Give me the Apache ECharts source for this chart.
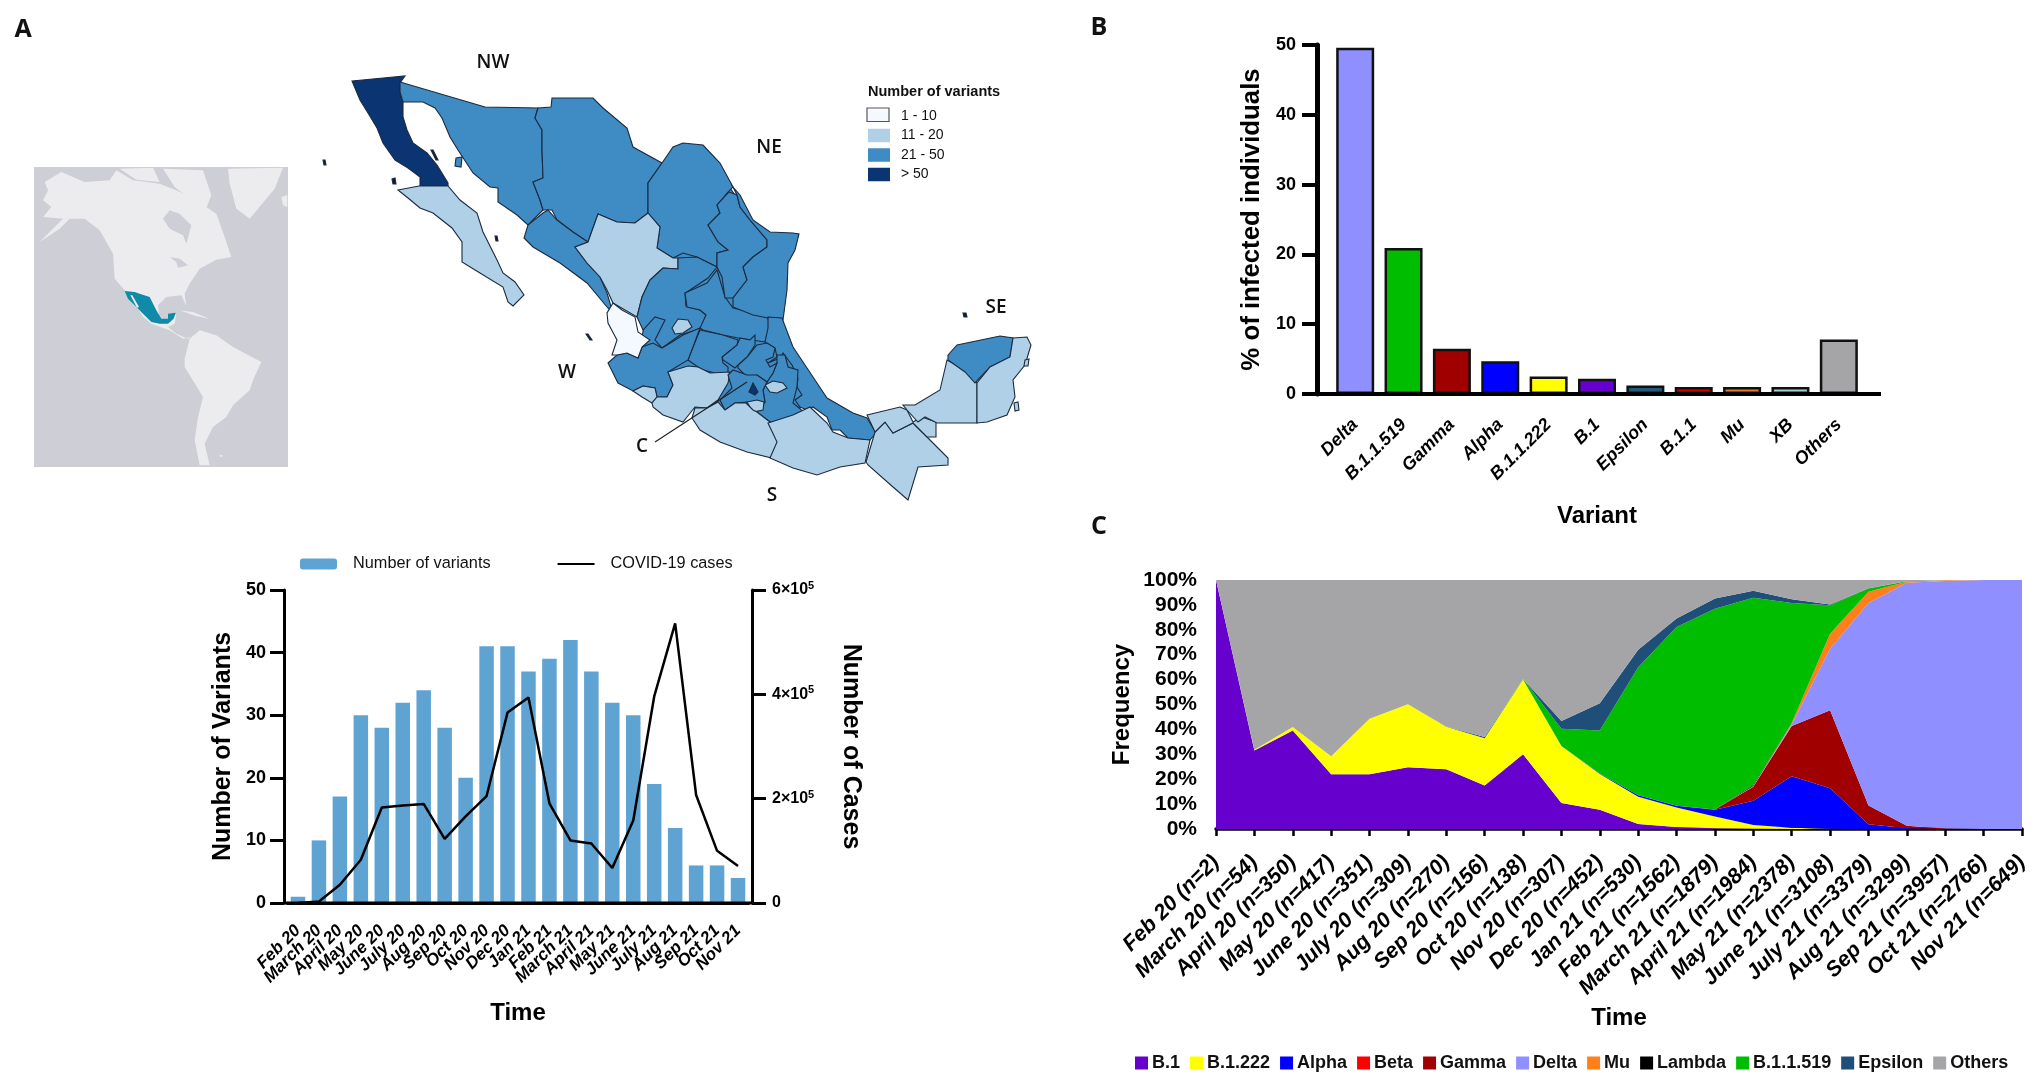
<!DOCTYPE html>
<html>
<head>
<meta charset="utf-8">
<title>SARS-CoV-2 variants in Mexico</title>
<script src="https://cdn.jsdelivr.net/npm/echarts@6/dist/echarts.min.js"></script>
<style>
  html, body { margin: 0; padding: 0; background: #fff; }
  #chart { width: 2033px; height: 1075px; }
</style>
</head>
<body>
<div id="chart"></div>
<script>
// panel A, bar + line
const MONTHS = ["Feb 20", "March 20", "April 20", "May 20", "June 20", "July 20", "Aug 20", "Sep 20", "Oct 20", "Nov 20", "Dec 20",
  "Jan 21", "Feb 21", "March 21", "April 21", "May 21", "June 21", "July 21", "Aug 21", "Sep 21", "Oct 21", "Nov 21"];
const VARIANT_COUNTS = [1, 10, 17, 30, 28, 32, 34, 28, 20, 41, 41, 37, 39, 42, 37, 32, 30, 19, 12, 6, 6, 4];
const COVID_CASES = [0, 3000, 35000, 83000, 183000, 187000, 190000, 123000, 166000, 205000, 365000,
  394000, 191000, 120000, 114000, 67000, 158000, 396000, 536000, 207000, 100000, 71000];
const CASE_TICK_LABELS = { 0: "{a|0}", 200000: "{a|2×10}{b|5}", 400000: "{a|4×10}{b|5}", 600000: "{a|6×10}{b|5}" };

// panel B
const VARIANTS = ["Delta", "B.1.1.519", "Gamma", "Alpha", "B.1.1.222", "B.1", "Epsilon", "B.1.1", "Mu", "XB", "Others"];
const VARIANT_SHARE = [49.6, 20.9, 6.5, 4.7, 2.5, 2.2, 1.2, 1, 1, 1, 7.8];
const VARIANT_COLORS = ["#8f8fff", "#00bd00", "#a00000", "#0000ff", "#ffff00", "#6600cc", "#1f5a7a", "#d40000", "#e87a1f", "#a8cfd0", "#a5a5a8"];

// panel C, stacked frequency per month
const SAMPLE_MONTHS = ["Feb 20 (n=2)", "March 20 (n=54)", "April 20 (n=350)", "May 20 (n=417)", "June 20 (n=351)", "July 20 (n=309)",
  "Aug 20 (n=270)", "Sep 20 (n=156)", "Oct 20 (n=138)", "Nov 20 (n=307)", "Dec 20 (n=452)", "Jan 21 (n=530)", "Feb 21 (n=1562)",
  "March 21 (n=1879)", "April 21 (n=1984)", "May 21 (n=2378)", "June 21 (n=3108)", "July 21 (n=3379)", "Aug 21 (n=3299)",
  "Sep 21 (n=3957)", "Oct 21 (n=2766)", "Nov 21 (n=649)"];
const FREQ_B1 = [100, 31.5, 39.6, 22, 22, 24.8, 24, 17.5, 30, 10.4, 7.7, 2, 0.8, 0.3, 0.1, 0, 0, 0, 0, 0, 0, 0];
const FREQ_B1222 = [0, 0.3, 1.4, 7.2, 22.3, 25.3, 17.1, 18.9, 30, 22.9, 14.4, 11, 7.8, 4.7, 1.5, 0.5, 0.1, 0, 0, 0, 0, 0];
const FREQ_ALPHA = [0, 0, 0, 0, 0, 0, 0, 0, 0, 0, 0.2, 0.6, 0.7, 2.7, 9.7, 20.7, 16.3, 1.9, 0.3, 0, 0, 0];
const FREQ_BETA = [0, 0, 0, 0, 0, 0, 0, 0, 0, 0, 0, 0, 0, 0, 0, 0, 0, 0, 0, 0, 0, 0];
const FREQ_GAMMA = [0, 0, 0, 0, 0, 0, 0, 0, 0, 0, 0, 0, 0, 0.1, 5.7, 20.2, 31.3, 7.5, 1, 0.2, 0, 0];
const FREQ_DELTA = [0, 0, 0, 0, 0, 0, 0, 0, 0, 0, 0, 0, 0, 0, 0.2, 0.6, 24.7, 81.4, 97.6, 99.4, 100, 100];
const FREQ_MU = [0, 0, 0, 0, 0, 0, 0, 0, 0, 0, 0, 0, 0, 0, 0.1, 0.5, 6, 4.5, 0.4, 0.3, 0, 0];
const FREQ_LAMBDA = [0, 0, 0, 0, 0, 0, 0, 0, 0, 0, 0, 0, 0, 0, 0.4, 0.1, 0, 0, 0, 0, 0, 0];
const FREQ_B11519 = [0, 0, 0, 0, 0, 0, 0, 0, 0.2, 7, 17.3, 51.4, 71.8, 80.7, 75.2, 48.2, 11.5, 1.3, 0.2, 0, 0, 0];
const FREQ_EPSILON = [0, 0, 0, 0, 0, 0, 0.1, 0.5, 0, 3.1, 10.9, 7, 3.4, 4.1, 2.8, 1.5, 0.3, 0.1, 0, 0, 0, 0];
const FREQ_OTHERS = [0, 68.2, 59, 70.8, 55.7, 49.9, 58.8, 63.1, 39.8, 56.6, 49.5, 28, 15.5, 7.4, 4.3, 7.7, 9.8, 3.3, 0.5, 0.1, 0, 0];

const STACK_NAMES = ["B.1", "B.1.222", "Alpha", "Beta", "Gamma", "Delta", "Mu", "Lambda", "B.1.1.519", "Epsilon", "Others"];
const STACK_VALUES = [FREQ_B1, FREQ_B1222, FREQ_ALPHA, FREQ_BETA, FREQ_GAMMA, FREQ_DELTA, FREQ_MU, FREQ_LAMBDA, FREQ_B11519, FREQ_EPSILON, FREQ_OTHERS];
const STACK_COLORS = ["#6600cc", "#ffff00", "#0000ff", "#ff0000", "#a00000", "#8f8fff", "#ff7f1a", "#000000", "#00bd00", "#1f4e79", "#a5a5a8"];

// map outlines in map units
const MEXICO_STATES = {
  // drawn first, closes the small slivers between the traced state borders
  "Interior": [[665,170],[680,150],[703,150],[735,195],[755,225],[785,240],[780,300],[785,345],[810,385],[800,408],[770,420],[700,410],[650,395],[625,375],[640,345],[650,300],[660,255],[655,215]],
  "Baja California": [[352,81],[405,76],[400,83],[400,93],[403,102],[403,117],[407,130],[413,143],[427,153],[437,165],[448,183],[448,186],[420,186],[420,177],[408,168],[395,160],[383,143],[377,128],[368,113],[360,100]],
  "Baja California Sur": [[398,190],[419,186],[448,186],[460,200],[477,213],[483,232],[497,260],[503,273],[515,282],[524,295],[513,306],[508,302],[503,287],[480,273],[462,262],[462,242],[452,228],[433,213],[420,208],[408,198]],
  "Sonora": [[400,82],[485,107],[538,108],[535,118],[542,130],[542,150],[543,178],[533,182],[540,200],[543,210],[528,225],[517,215],[498,202],[498,188],[490,187],[473,173],[458,150],[450,137],[442,118],[435,108],[423,102],[403,102],[400,92]],
  "Chihuahua": [[538,108],[551,107],[552,98],[593,98],[603,108],[627,128],[633,147],[662,163],[648,183],[648,213],[635,223],[617,222],[598,214],[588,242],[573,232],[557,220],[552,210],[543,210],[540,200],[533,182],[543,178],[542,150],[542,130],[535,118]],
  "Coahuila": [[662,163],[673,147],[683,143],[703,145],[720,163],[733,187],[728,192],[717,205],[720,213],[708,225],[718,242],[728,250],[717,253],[717,267],[697,257],[683,253],[673,258],[657,248],[660,227],[648,213],[648,183]],
  "Sinaloa": [[548,210],[557,220],[573,232],[588,242],[575,247],[587,263],[600,277],[607,293],[613,313],[607,307],[587,283],[560,263],[533,247],[524,238],[528,225],[543,213]],
  "Durango": [[598,214],[617,222],[635,223],[648,213],[660,227],[657,248],[673,258],[678,258],[678,269],[663,268],[650,280],[642,297],[637,317],[613,303],[607,290],[600,277],[587,263],[575,247],[588,242]],
  "Zacatecas": [[650,280],[663,268],[678,269],[678,258],[697,257],[717,267],[708,278],[690,290],[685,293],[686,306],[700,310],[706,315],[702,327],[700,329],[680,335],[662,348],[655,340],[665,320],[655,317],[643,330],[637,317],[642,297]],
  "San Luis Potosi": [[717,270],[725,297],[733,308],[750,312],[768,318],[770,327],[765,342],[738,338],[723,335],[703,330],[700,328],[706,315],[700,310],[687,307],[685,293],[707,283]],
  "Aguascalientes": [[672,328],[678,319],[688,320],[692,327],[683,333],[675,334]],
  "Nuevo Leon": [[729,192],[737,195],[740,207],[750,220],[767,240],[767,247],[753,257],[743,267],[747,280],[733,298],[725,298],[722,277],[717,267],[717,253],[728,250],[718,242],[708,225],[720,213],[717,205]],
  "Tamaulipas": [[733,187],[740,195],[753,220],[770,232],[793,233],[799,234],[795,250],[788,263],[787,290],[783,320],[768,318],[753,315],[733,307],[733,298],[747,280],[743,267],[753,257],[767,247],[767,240],[750,220],[740,207],[737,195]],
  "Veracruz": [[768,317],[782,318],[793,347],[817,383],[827,398],[853,413],[867,418],[876,433],[870,440],[848,438],[840,430],[832,430],[827,417],[813,407],[807,410],[800,407],[795,400],[802,395],[797,387],[798,378],[792,365],[783,353],[780,358],[768,363],[777,357],[775,348],[765,342],[768,328]],
  "Puebla": [[777,355],[785,355],[788,367],[798,370],[797,387],[793,403],[804,412],[785,420],[770,422],[757,412],[765,402],[763,390],[767,382],[773,373],[777,363]],
  "Tlaxcala": [[765,385],[773,381],[783,383],[787,388],[777,393],[770,392]],
  "Hidalgo": [[738,365],[747,357],[757,345],[767,343],[775,348],[773,357],[766,360],[770,367],[777,363],[773,373],[767,382],[757,375],[747,377],[738,368]],
  "Queretaro": [[722,357],[737,345],[740,338],[750,340],[755,335],[755,345],[747,357],[738,365],[735,368],[723,360]],
  "Guanajuato": [[700,330],[723,335],[738,340],[737,345],[722,357],[723,363],[728,367],[728,375],[715,373],[703,370],[698,367],[688,360],[693,347]],
  "Jalisco": [[608,363],[617,355],[627,353],[638,358],[642,347],[653,343],[662,348],[672,342],[683,335],[700,328],[693,347],[688,360],[668,372],[673,385],[667,397],[657,397],[655,388],[643,386],[633,391],[618,383]],
  "Colima": [[633,391],[643,386],[655,388],[657,397],[652,403],[642,397]],
  "Michoacan": [[668,372],[688,366],[698,367],[710,373],[730,372],[728,383],[718,400],[707,408],[695,407],[687,417],[683,422],[663,415],[653,407],[652,403],[657,397],[667,397],[673,385]],
  "Mexico": [[728,375],[733,370],[747,375],[757,375],[767,382],[763,390],[765,402],[757,410],[747,402],[735,403],[725,410],[720,400],[732,388]],
  "Ciudad de Mexico": [[749,392],[753,383],[758,392],[755,395]],
  "Morelos": [[747,402],[757,400],[764,402],[763,410],[753,412]],
  "Nayarit": [[613,303],[622,310],[635,317],[638,332],[650,340],[642,347],[638,358],[627,353],[617,355],[612,355],[617,340],[608,323],[607,313]],
  "Guerrero": [[692,418],[695,408],[707,408],[718,402],[725,410],[735,403],[746,403],[753,410],[757,412],[770,422],[778,442],[772,458],[747,452],[720,442],[700,430]],
  "Oaxaca": [[768,423],[793,415],[810,407],[827,423],[833,432],[848,438],[870,440],[865,463],[840,467],[817,475],[793,468],[770,458],[777,442]],
  "Chiapas": [[875,432],[885,422],[893,433],[913,423],[927,437],[948,458],[948,465],[918,467],[908,500],[893,487],[868,465],[866,462]],
  "Tabasco": [[867,415],[900,407],[907,410],[913,422],[922,417],[936,422],[936,437],[927,437],[917,427],[913,423],[893,433],[885,422],[875,432]],
  "Campeche": [[903,405],[915,405],[940,390],[947,360],[965,370],[977,383],[977,423],[937,423],[925,417],[918,422],[907,410]],
  "Yucatan": [[948,355],[957,345],[1000,336],[1013,338],[1010,357],[990,367],[975,383],[965,372],[948,360]],
  "Quintana Roo": [[1013,338],[1027,337],[1031,345],[1025,365],[1013,380],[1015,397],[1007,415],[987,422],[977,423],[977,383],[990,367],[1010,357]]
};
const STATE_VARIANT_CLASS = {
  "Interior": 35,
  "Baja California": 60, "Baja California Sur": 15, "Sonora": 35, "Chihuahua": 35, "Coahuila": 35, "Sinaloa": 35, "Durango": 15,
  "Zacatecas": 35, "Aguascalientes": 15, "San Luis Potosi": 35, "Nuevo Leon": 35, "Tamaulipas": 35, "Veracruz": 35, "Puebla": 35,
  "Tlaxcala": 15, "Hidalgo": 35, "Queretaro": 35, "Guanajuato": 35, "Jalisco": 35, "Colima": 15, "Michoacan": 15, "Mexico": 35,
  "Ciudad de Mexico": 60, "Morelos": 15, "Nayarit": 5, "Guerrero": 15, "Oaxaca": 15, "Chiapas": 15, "Tabasco": 15, "Campeche": 15,
  "Yucatan": 35, "Quintana Roo": 15, "Cozumel": 15, "Mujeres": 15, "Tiburon": 35
};
const MEXICO_ISLANDS = {
  "Guadalupe": [[323,160],[325,160],[326,165],[324,165]],
  "Cedros": [[392,179],[395,178],[396,184],[393,184]],
  "Angel de la Guarda": [[431,150],[433,150],[438,160],[436,160]],
  "Tiburon": [[456,158],[462,157],[461,167],[455,166]],
  "Marias": [[586,334],[588,334],[592,340],[590,340]],
  "Cerralvo": [[495,236],[497,236],[498,241],[496,241]],
  "Arrecife": [[963,313],[966,313],[967,317],[964,317]],
  "Cozumel": [[1014,403],[1018,402],[1019,410],[1015,411]],
  "Mujeres": [[1025,360],[1029,359],[1028,366],[1024,366]]
};
const LEGEND_PIECES = [
  { label: "1 - 10", min: 1, max: 10, color: "#f4f9ff" },
  { label: "11 - 20", min: 11, max: 20, color: "#b0d0e8" },
  { label: "21 - 50", min: 21, max: 50, color: "#3f8bc4" },
  { label: "> 50", min: 51, color: "#0a3472" }
];

// locator map of the Americas, in its own map units
const INSET_SHAPES = {
  "ocean": [[43,50],[805,50],[805,950],[43,950]],
  "north america": [[75,95],[125,65],[195,95],[270,90],[290,60],[340,90],[420,100],[470,120],[530,150],[590,190],[615,260],[635,320],[590,328],[540,355],[510,400],[495,430],[500,468],[485,435],[440,440],[415,465],[420,510],[450,515],[470,490],[465,520],[445,530],[470,550],[505,565],[515,560],[490,565],[450,540],[395,520],[370,500],[340,450],[315,420],[285,385],[280,310],[240,240],[195,205],[150,205],[120,235],[60,275],[110,225],[130,205],[70,200],[95,170],[70,150],[85,120]],
  "hudson bay": [[430,205],[450,180],[480,190],[515,225],[500,280],[490,255],[450,235]],
  "great lakes": [[450,320],[480,325],[505,345],[475,352],[470,335]],
  "arctic west": [[300,55],[400,52],[420,95],[350,88]],
  "arctic east": [[430,55],[550,60],[575,135],[555,185],[510,145],[465,110]],
  "greenland": [[625,55],[790,52],[765,115],[690,205],[650,175],[630,100]],
  "iceland": [[785,140],[803,135],[803,170],[790,165]],
  "cuba": [[480,480],[520,485],[570,505],[530,498]],
  "south america": [[510,565],[540,540],[590,555],[640,590],[725,635],[700,690],[690,720],[640,765],[620,800],[580,830],[555,880],[570,945],[540,945],[525,870],[535,800],[550,740],[495,650],[495,625]],
  "falklands": [[597,915],[610,915],[605,921]],
  "mexico": [[315,422],[345,425],[360,430],[390,440],[410,480],[425,505],[445,505],[445,490],[468,487],[462,505],[445,520],[420,520],[395,515],[370,490],[345,465],[325,445]],
  "gulf of california": [[332,435],[338,435],[358,470],[352,472]]
};

function outlinesToGeoJson(shapes) {
  const flip = (ring) => ring.concat([ring[0]]).map((p) => [p[0], -p[1]]);
  return {
    type: "FeatureCollection",
    features: Object.keys(shapes).map((name) => ({
      type: "Feature",
      properties: { name },
      geometry: { type: "Polygon", coordinates: [flip(shapes[name])] },
    })),
  };
}

echarts.registerMap("mexico", outlinesToGeoJson({ ...MEXICO_STATES, ...MEXICO_ISLANDS }));
echarts.registerMap("americas", outlinesToGeoJson(INSET_SHAPES));

const chart = echarts.init(document.getElementById("chart"));

const FONT = "Liberation Sans";
const axisName = { fontFamily: FONT, fontWeight: "bold", fontSize: 24, color: "#000" };
const tickText = { fontFamily: FONT, fontWeight: "bold", color: "#000" };

function insetColor(name) {
  if (name === "ocean" || name === "hudson bay" || name === "great lakes") return "#cdced6";
  if (name === "mexico") return "#0f8aa8";
  return "#ececee";
}

function noteText(text, x, y, size, weight) {
  return {
    type: "text",
    z: 50,
    style: {
      text,
      x,
      y,
      fill: "#111",
      align: "center",
      verticalAlign: "middle",
      font: `${weight || 600} ${size}px "Open Sans"`,
    },
  };
}

function axisStub(x1, x2, y, width) {
  return { type: "line", z: 40, shape: { x1, y1: y, x2, y2: y }, style: { stroke: "#000", lineWidth: width } };
}

const mapCommon = { type: "map", aspectScale: 1, roam: false, silent: true, selectedMode: false, emphasis: { disabled: true }, label: { show: false }, showLegendSymbol: false };

const option = {
  animation: false,
  backgroundColor: "#fff",
  grid: [
    { left: 287.5, top: 590, width: 461, height: 313 },
    { left: 1331, top: 45, width: 532, height: 349 },
    { left: 1216, top: 580, width: 806, height: 249 },
  ],
  xAxis: [
    {
      gridIndex: 0, type: "category", data: MONTHS,
      axisLine: { lineStyle: { color: "#000", width: 3 } },
      axisTick: { alignWithLabel: true, length: 13, lineStyle: { color: "#000", width: 2.5 } },
      axisLabel: { ...tickText, fontStyle: "italic", fontSize: 17, rotate: 45, interval: 0, margin: 25 },
      name: "Time", nameLocation: "middle", nameGap: 98, nameTextStyle: axisName,
    },
    {
      gridIndex: 1, type: "category", data: VARIANTS,
      axisLine: { lineStyle: { color: "#000", width: 4 } },
      axisTick: { alignWithLabel: true, length: 13, lineStyle: { color: "#000", width: 4 } },
      axisLabel: { ...tickText, fontStyle: "italic", fontSize: 18, rotate: 45, interval: 0, margin: 28 },
      name: "Variant", nameLocation: "middle", nameGap: 110, nameTextStyle: axisName,
    },
    {
      gridIndex: 2, type: "category", data: SAMPLE_MONTHS, boundaryGap: false,
      axisLine: { lineStyle: { color: "#000", width: 3.5 } },
      axisTick: { length: 7, lineStyle: { color: "#000", width: 2.5 } },
      axisLabel: { ...tickText, fontStyle: "italic", fontSize: 21.5, rotate: 45, interval: 0, margin: 30 },
      name: "Time", nameLocation: "middle", nameGap: 177, nameTextStyle: axisName,
    },
  ],
  yAxis: [
    {
      gridIndex: 0, type: "value", min: 0, max: 50, interval: 10, offset: 3.5,
      axisLine: { show: true, lineStyle: { color: "#000", width: 3 } },
      axisTick: { show: true, length: 14, lineStyle: { color: "#000", width: 3 } },
      axisLabel: { ...tickText, fontSize: 18, margin: 18 },
      splitLine: { show: false },
      name: "Number of Variants", nameLocation: "middle", nameGap: 48, nameTextStyle: { ...axisName, fontSize: 25 },
    },
    {
      gridIndex: 0, type: "value", position: "right", min: 0, max: 600000, interval: 200000, offset: 3.5,
      axisLine: { show: true, lineStyle: { color: "#000", width: 3 } },
      axisTick: { show: true, length: 14, lineStyle: { color: "#000", width: 3 } },
      axisLabel: {
        margin: 20,
        formatter: (v) => CASE_TICK_LABELS[v],
        rich: {
          a: { ...tickText, fontSize: 16 },
          b: { ...tickText, fontSize: 11, verticalAlign: "top", padding: [0, 0, 8, 0] },
        },
      },
      splitLine: { show: false },
      name: "Number of Cases", nameLocation: "middle", nameGap: 86, nameRotate: -90, nameTextStyle: { ...axisName, fontSize: 25 },
    },
    {
      gridIndex: 1, type: "value", min: 0, max: 50, interval: 10, offset: 14,
      axisLine: { show: true, lineStyle: { color: "#000", width: 5 } },
      axisTick: { show: true, length: 15, lineStyle: { color: "#000", width: 4 } },
      axisLabel: { ...tickText, fontSize: 18, margin: 21 },
      splitLine: { show: false },
      name: "% of infected individuals", nameLocation: "middle", nameGap: 52, nameTextStyle: { ...axisName, fontSize: 25.8 },
    },
    {
      gridIndex: 2, type: "value", min: 0, max: 100, interval: 10,
      axisLine: { show: false },
      axisTick: { show: false },
      axisLabel: { ...tickText, fontSize: 21, margin: 19, formatter: "{value}%" },
      splitLine: { show: false },
      name: "Frequency", nameLocation: "middle", nameGap: 82, nameTextStyle: axisName,
    },
  ],
  legend: [
    {
      data: ["Number of variants", { name: "COVID-19 cases", itemStyle: { opacity: 0 } }], left: 295, top: 551, itemWidth: 37, itemHeight: 11, itemGap: 66,
      textStyle: { fontFamily: FONT, fontSize: 16.3, color: "#111", padding: [0, 0, 0, 11] },
    },
    {
      data: STACK_NAMES, left: 1130, top: 1049, itemWidth: 13, itemHeight: 13, itemGap: 10, icon: "rect",
      textStyle: { fontFamily: FONT, fontSize: 18, fontWeight: "bold", color: "#111", padding: [0, 0, 0, -1] },
    },
  ],
  visualMap: {
    type: "piecewise", seriesIndex: 0, pieces: LEGEND_PIECES, inverse: true, left: 853, top: 94, itemWidth: 22, itemHeight: 13.5, itemGap: 5.5,
    itemSymbol: "rect", textGap: 11, textStyle: { fontFamily: FONT, fontSize: 14, color: "#111" }, hoverLink: false, selectedMode: false,
  },
  series: [
    {
      ...mapCommon, name: "Variants per state", map: "mexico", left: 323, top: 76, width: 708, height: 424,
      itemStyle: { areaColor: "#0d1a30", borderColor: "#1b2a3f", borderWidth: 1.1 },
      data: Object.keys(STATE_VARIANT_CLASS).map((name) => ({ name, value: STATE_VARIANT_CLASS[name] })),
    },
    {
      ...mapCommon, name: "Locator", map: "americas", left: 34, top: 167, width: 254, height: 300,
      itemStyle: { borderWidth: 0, areaColor: "#ececee" },
      data: Object.keys(INSET_SHAPES).map((name) => ({ name, value: 1, itemStyle: { areaColor: insetColor(name), borderWidth: 0 } })),
    },
    {
      name: "Number of variants", type: "bar", xAxisIndex: 0, yAxisIndex: 0, barWidth: 14.5, data: VARIANT_COUNTS,
      itemStyle: { color: "#5fa3d3" },
    },
    {
      name: "COVID-19 cases", type: "line", xAxisIndex: 0, yAxisIndex: 1, symbol: "none", data: COVID_CASES,
      lineStyle: { color: "#000", width: 2.5 }, itemStyle: { color: "#000" }, z: 5,
    },
    {
      name: "% of infected individuals", type: "bar", xAxisIndex: 1, yAxisIndex: 2, barWidth: 38,
      data: VARIANT_SHARE.map((value, i) => ({ value, itemStyle: { color: VARIANT_COLORS[i] } })),
      itemStyle: { borderColor: "#111", borderWidth: 2.5 },
    },
    ...STACK_NAMES.map((name, i) => ({
      name, type: "line", xAxisIndex: 2, yAxisIndex: 3, stack: "freq", symbol: "none", data: STACK_VALUES[i],
      lineStyle: { width: 0 }, itemStyle: { color: STACK_COLORS[i] },
      areaStyle: { color: STACK_COLORS[i], opacity: 1 },
    })),
  ],
  graphic: [
    axisStub(284, 752, 903, 3),
    axisStub(1317, 1881, 394, 4),
    noteText("A", 23, 30, 25, 700),
    noteText("B", 1099, 28, 25, 700),
    noteText("C", 1099, 527, 25, 700),
    noteText("NW", 493, 63, 19),
    noteText("NE", 769, 148, 19),
    noteText("SE", 996, 308, 19),
    noteText("W", 567, 373, 19),
    noteText("C", 642, 447, 19),
    noteText("S", 772, 496, 19),
    { type: "line", z: 45, shape: { x1: 655, y1: 442, x2: 747, y2: 382 }, style: { stroke: "#222", lineWidth: 1.2 } },
    { type: "text", z: 50, style: { text: "Number of variants", x: 868, y: 92, fill: "#111", align: "left", verticalAlign: "middle", font: `bold 14.5px "${FONT}"` } },
    { type: "rect", z: 40, shape: { x: 867, y: 108, width: 22, height: 13.5 }, style: { fill: "none", stroke: "#555", lineWidth: 1.2 } },
  ],
};

chart.setOption(option);
window.addEventListener("resize", () => chart.resize());
</script>
</body>
</html>
